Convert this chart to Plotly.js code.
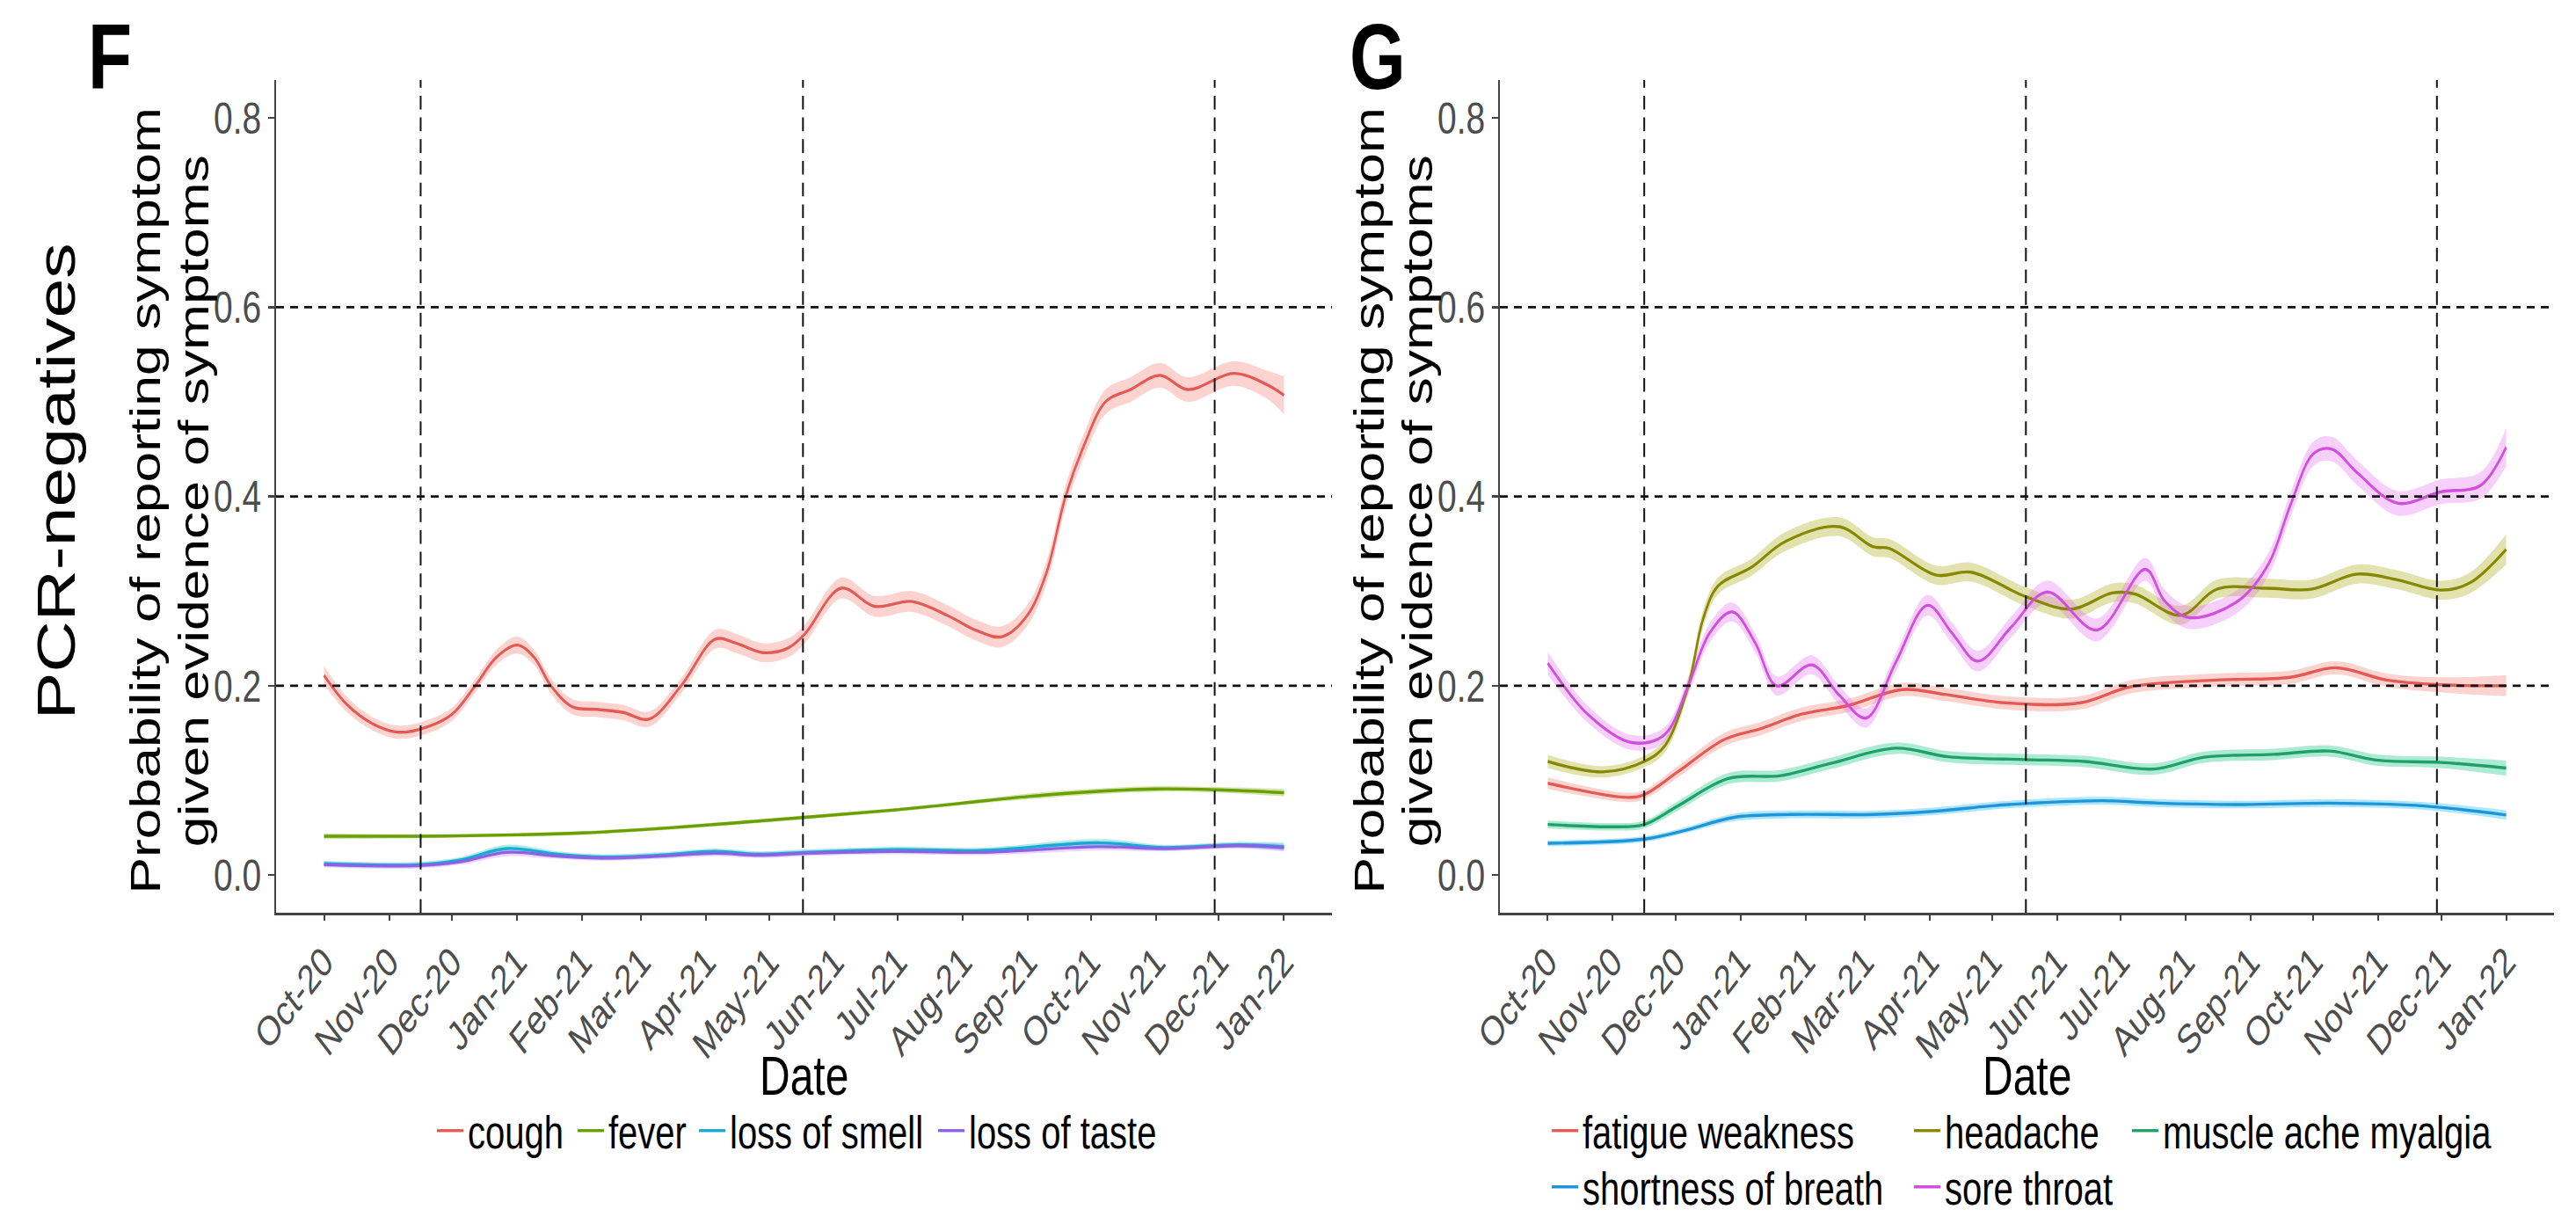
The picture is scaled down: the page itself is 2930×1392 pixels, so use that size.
<!DOCTYPE html>
<html>
<head>
<meta charset="utf-8">
<script src="https://cdn.plot.ly/plotly-3.0.1.min.js"></script>
<style>
html,body{margin:0;padding:0;background:#fff;overflow:hidden;width:2930px;height:1392px;}
#chart{width:2930px;height:1071px;transform:scaleY(1.29972);transform-origin:0 0;}
</style>
</head>
<body>
<div id="chart"></div>
<script>
// ---------- axis ticks ----------
const monthTicks = ['2020-10-01','2020-11-01','2020-12-01','2021-01-01','2021-02-01','2021-03-01','2021-04-01','2021-05-01','2021-06-01','2021-07-01','2021-08-01','2021-09-01','2021-10-01','2021-11-01','2021-12-01','2022-01-01'];
const monthLabels = ['Oct-20','Nov-20','Dec-20','Jan-21','Feb-21','Mar-21','Apr-21','May-21','Jun-21','Jul-21','Aug-21','Sep-21','Oct-21','Nov-21','Dec-21','Jan-22'];
const yTicks = [0, 0.2, 0.4, 0.6, 0.8];
const yTickLabels = ['0.0','0.2','0.4','0.6','0.8'];
const variantDates = ['2020-11-16','2021-05-17','2021-11-29'];
const refLevels = [0.2, 0.4, 0.6];

// ---------- panel F (PCR-negatives) ----------
const coughDates = ['2020-10-01','2020-10-12','2020-10-24','2020-11-05','2020-11-17','2020-12-01','2020-12-12','2020-12-22','2021-01-01','2021-01-09','2021-01-17','2021-01-27','2021-02-08','2021-02-20','2021-03-05','2021-03-20','2021-04-05','2021-04-15','2021-04-28','2021-05-10','2021-05-18','2021-06-04','2021-06-20','2021-07-08','2021-07-25','2021-08-08','2021-08-20','2021-09-01','2021-09-10','2021-09-19','2021-09-28','2021-10-08','2021-10-20','2021-11-03','2021-11-16','2021-12-08','2021-12-24','2022-01-01'];
const coughVals = [0.211,0.180,0.160,0.151,0.155,0.170,0.200,0.230,0.243,0.230,0.200,0.178,0.175,0.172,0.165,0.200,0.249,0.245,0.235,0.240,0.255,0.303,0.284,0.289,0.274,0.258,0.252,0.275,0.320,0.400,0.455,0.500,0.513,0.528,0.513,0.530,0.518,0.507];
const coughCi = [0.010,0.008,0.007,0.007,0.007,0.007,0.007,0.008,0.009,0.008,0.008,0.008,0.008,0.008,0.008,0.008,0.010,0.010,0.010,0.010,0.010,0.011,0.011,0.011,0.011,0.011,0.011,0.011,0.012,0.012,0.013,0.013,0.013,0.013,0.013,0.013,0.015,0.020];

const feverDates = ['2020-10-01','2020-11-15','2021-01-01','2021-02-01','2021-03-15','2021-05-18','2021-07-01','2021-08-01','2021-09-01','2021-10-01','2021-11-01','2021-12-01','2022-01-01'];
const feverVals = [0.041,0.041,0.0425,0.0445,0.050,0.061,0.069,0.076,0.083,0.088,0.091,0.090,0.087];
const feverCi = [0.003,0.002,0.002,0.002,0.002,0.002,0.002,0.002,0.003,0.003,0.003,0.003,0.004];

const smellDates = ['2020-10-01','2020-11-15','2020-12-05','2020-12-27','2021-01-20','2021-02-10','2021-03-10','2021-04-05','2021-04-26','2021-05-18','2021-07-01','2021-08-10','2021-10-05','2021-11-05','2021-12-10','2022-01-01'];
const smellVals = [0.012,0.011,0.016,0.028,0.022,0.019,0.021,0.025,0.022,0.024,0.027,0.026,0.034,0.029,0.032,0.030];
const smellCi = [0.003,0.003,0.003,0.004,0.003,0.003,0.003,0.003,0.003,0.003,0.003,0.003,0.004,0.003,0.003,0.004];
const tasteVals = [0.011,0.010,0.014,0.024,0.020,0.018,0.020,0.023,0.021,0.023,0.025,0.024,0.030,0.028,0.031,0.029];
const tasteCi = [0.003,0.003,0.003,0.004,0.003,0.003,0.003,0.003,0.003,0.003,0.003,0.003,0.004,0.003,0.003,0.004];

// ---------- panel G ----------
const fatigueDates = ['2020-10-01','2020-11-08','2020-11-16','2020-12-02','2020-12-24','2021-01-11','2021-01-30','2021-02-21','2021-03-19','2021-04-08','2021-05-07','2021-06-12','2021-07-06','2021-08-16','2021-09-20','2021-10-12','2021-11-05','2021-12-01','2022-01-01'];
const fatigueVals = [0.097,0.082,0.085,0.109,0.143,0.155,0.170,0.179,0.196,0.191,0.182,0.182,0.199,0.206,0.209,0.219,0.206,0.201,0.200];
const fatigueCi = [0.006,0.005,0.005,0.006,0.007,0.007,0.007,0.007,0.007,0.007,0.007,0.007,0.007,0.007,0.007,0.007,0.007,0.008,0.011];

const headacheDates = ['2020-10-01','2020-10-27','2020-11-16','2020-11-26','2020-12-07','2020-12-14','2020-12-21','2021-01-06','2021-01-22','2021-02-17','2021-03-05','2021-03-13','2021-04-04','2021-04-21','2021-05-17','2021-06-08','2021-06-27','2021-07-08','2021-07-30','2021-08-16','2021-09-09','2021-09-30','2021-10-22','2021-11-10','2021-12-01','2021-12-15','2022-01-01'];
const headacheVals = [0.120,0.109,0.120,0.137,0.200,0.270,0.305,0.325,0.352,0.368,0.347,0.345,0.317,0.320,0.294,0.281,0.298,0.297,0.2745,0.302,0.303,0.302,0.318,0.312,0.301,0.309,0.344];
const headacheCi = [0.007,0.006,0.006,0.007,0.008,0.009,0.009,0.009,0.010,0.010,0.010,0.010,0.010,0.010,0.010,0.010,0.010,0.010,0.010,0.010,0.010,0.010,0.010,0.010,0.010,0.011,0.016];

const muscleDates = ['2020-10-01','2020-10-31','2020-11-16','2020-12-02','2020-12-26','2021-01-20','2021-02-13','2021-03-16','2021-04-10','2021-05-17','2021-06-14','2021-07-17','2021-08-10','2021-09-12','2021-10-09','2021-10-31','2021-12-01','2022-01-01'];
const muscleVals = [0.0535,0.051,0.0535,0.073,0.102,0.105,0.118,0.134,0.125,0.122,0.120,0.112,0.1245,0.1275,0.131,0.1215,0.119,0.113];
const muscleCi = [0.004,0.004,0.004,0.005,0.006,0.006,0.006,0.006,0.006,0.006,0.006,0.006,0.006,0.006,0.006,0.006,0.006,0.008];

const breathDates = ['2020-10-01','2020-11-16','2020-12-05','2020-12-29','2021-01-25','2021-03-05','2021-04-01','2021-04-30','2021-05-20','2021-06-22','2021-07-19','2021-08-29','2021-10-09','2021-11-23','2022-01-01'];
const breathVals = [0.0336,0.038,0.047,0.061,0.064,0.064,0.067,0.073,0.076,0.0785,0.076,0.0745,0.076,0.073,0.0635];
const breathCi = [0.003,0.003,0.003,0.004,0.004,0.004,0.004,0.004,0.004,0.004,0.004,0.004,0.004,0.004,0.005];

const soreDates = ['2020-10-01','2020-10-20','2020-11-10','2020-11-26','2020-12-07','2020-12-17','2020-12-28','2021-01-08','2021-01-18','2021-02-04','2021-02-17','2021-03-02','2021-03-16','2021-03-31','2021-04-12','2021-04-24','2021-05-10','2021-05-27','2021-06-20','2021-07-13','2021-07-22','2021-08-03','2021-08-27','2021-09-10','2021-09-20','2021-10-01','2021-10-10','2021-10-22','2021-11-10','2021-12-01','2021-12-20','2022-01-01'];
const soreVals = [0.224,0.170,0.140,0.149,0.200,0.255,0.278,0.245,0.200,0.222,0.190,0.166,0.225,0.285,0.255,0.226,0.262,0.299,0.259,0.323,0.290,0.272,0.291,0.330,0.390,0.445,0.450,0.425,0.393,0.405,0.412,0.452];
const soreCi = [0.012,0.009,0.008,0.008,0.009,0.010,0.010,0.010,0.010,0.010,0.010,0.010,0.010,0.011,0.011,0.011,0.011,0.012,0.012,0.012,0.012,0.012,0.012,0.012,0.013,0.013,0.013,0.013,0.013,0.013,0.014,0.020];

// ---------- styling ----------
const FONT = 'Liberation Sans, Arial, Helvetica, sans-serif';
const W = 2930, H = 1392;          // final picture size
const HU = 1071;                   // drawn height before the vertical stretch (see CSS)
const panelF = {x0: 314, x1: 1515};
const panelG = {x0: 1706, x1: 2905};
const plotTop = 93, plotBottom = 1061;
const xRange = ['2020-09-08 04:00:00', '2022-01-23 20:00:00'];
const yRange = [-0.04, 0.84];

function rgba(hex, a) {
  const n = parseInt(hex.slice(1), 16);
  return 'rgba(' + ((n >> 16) & 255) + ',' + ((n >> 8) & 255) + ',' + (n & 255) + ',' + a + ')';
}

const series = [
  {name:'cough', dates:coughDates, vals:coughVals, ci:coughCi, fill:'#F8766D', line:'#E35A55', ax:1, legend:'legend'},
  {name:'fever', dates:feverDates, vals:feverVals, ci:feverCi, fill:'#7CAE00', line:'#67A000', ax:1, legend:'legend2'},
  {name:'loss of smell', dates:smellDates, vals:smellVals, ci:smellCi, fill:'#00BFC4', line:'#1AA9D0', ax:1, legend:'legend3'},
  {name:'loss of taste', dates:smellDates, vals:tasteVals, ci:tasteCi, fill:'#C77CFF', line:'#8A62E6', ax:1, legend:'legend4'},
  {name:'fatigue weakness', dates:fatigueDates, vals:fatigueVals, ci:fatigueCi, fill:'#F8766D', line:'#E35A55', ax:2, legend:'legend5'},
  {name:'headache', dates:headacheDates, vals:headacheVals, ci:headacheCi, fill:'#A3A500', line:'#878800', ax:2, legend:'legend6'},
  {name:'muscle ache myalgia', dates:muscleDates, vals:muscleVals, ci:muscleCi, fill:'#00BF7D', line:'#1FA066', ax:2, legend:'legend7'},
  {name:'shortness of breath', dates:breathDates, vals:breathVals, ci:breathCi, fill:'#00B0F6', line:'#1E95D8', ax:2, legend:'legend8'},
  {name:'sore throat', dates:soreDates, vals:soreVals, ci:soreCi, fill:'#E76BF3', line:'#D14FDD', ax:2, legend:'legend9'}
];

const traces = [];
series.forEach(s => {
  const xa = s.ax === 1 ? 'x' : 'x2', ya = s.ax === 1 ? 'y' : 'y2';
  traces.push({x:s.dates, y:s.vals.map((v,i)=>v - s.ci[i]), xaxis:xa, yaxis:ya, type:'scatter', mode:'lines',
    line:{width:0, shape:'spline', color:'rgba(0,0,0,0)'}, showlegend:false, hoverinfo:'skip'});
  traces.push({x:s.dates, y:s.vals.map((v,i)=>v + s.ci[i]), xaxis:xa, yaxis:ya, type:'scatter', mode:'lines',
    line:{width:0, shape:'spline', color:'rgba(0,0,0,0)'}, fill:'tonexty', fillcolor:rgba(s.fill, 0.32),
    showlegend:false, hoverinfo:'skip'});
});
series.forEach(s => {
  const xa = s.ax === 1 ? 'x' : 'x2', ya = s.ax === 1 ? 'y' : 'y2';
  traces.push({x:s.dates, y:s.vals, xaxis:xa, yaxis:ya, type:'scatter', mode:'lines', name:s.name,
    line:{width:2.6, shape:'spline', color:s.line}, legend:s.legend, showlegend:true});
});

function xAxis(p, anchor) {
  return {type:'date', range:xRange, domain:[p.x0/W, p.x1/W], anchor:anchor,
    tickvals:monthTicks, ticktext:monthLabels, tickangle:-45,
    tickfont:{size:36, color:'#4D4D4D', family:FONT},
    showline:true, linecolor:'#444', linewidth:2, ticks:'outside', ticklen:5, tickwidth:2, tickcolor:'#444',
    showgrid:false, zeroline:false, fixedrange:true, automargin:false};
}
function yAxis(anchor) {
  return {range:yRange, domain:[1 - plotBottom/H, 1 - plotTop/H], anchor:anchor,
    tickvals:yTicks, ticktext:yTickLabels,
    tickfont:{size:39, color:'#4D4D4D', family:FONT},
    showline:true, linecolor:'#444', linewidth:2, ticks:'outside', ticklen:7, tickwidth:2, tickcolor:'#444',
    showgrid:false, zeroline:false, fixedrange:true, automargin:false};
}

const shapes = [];
[['x','y'],['x2','y2']].forEach(([xa, ya]) => {
  refLevels.forEach(v => shapes.push({type:'line', xref:xa + ' domain', yref:ya, x0:0, x1:1, y0:v, y1:v,
    line:{color:'#111', width:2.2, dash:'9px,7px'}, layer:'above'}));
  variantDates.forEach(d => shapes.push({type:'line', xref:xa, yref:ya + ' domain', x0:d, x1:d, y0:0, y1:1,
    line:{color:'#111', width:2, dash:'12px,7px'}, layer:'above'}));
});

function ann(text, xpx, ypx, size, opts) {
  return Object.assign({text:text, xref:'paper', yref:'paper', x:xpx/W, y:1 - ypx/H,
    xanchor:'center', yanchor:'middle', showarrow:false,
    font:{size:size, color:'#000', family:FONT}}, opts || {});
}
const annotations = [
  ann('<b>F</b>', 125, 3, 82, {yanchor:'top'}),
  ann('<b>G</b>', 1567, 3, 82, {yanchor:'top'}),
  ann('PCR-negatives', 64, 560, 62, {textangle:-90}),
  ann('Probability of reporting symptom', 165, 582, 48, {textangle:-90}),
  ann('given evidence of symptoms', 220, 582, 48, {textangle:-90}),
  ann('Probability of reporting symptom', 1557, 582, 48, {textangle:-90}),
  ann('given evidence of symptoms', 1612, 582, 48, {textangle:-90}),
  ann('Date', (panelF.x0 + panelF.x1)/2, 1250, 48),
  ann('Date', (panelG.x0 + panelG.x1)/2, 1250, 48)
];

function leg(xpx, ypx) {
  return {orientation:'v', x:xpx/W, xanchor:'left', y:1 - ypx/H, yanchor:'middle',
    traceorder:'normal',
    font:{size:40, color:'#000', family:FONT}, bgcolor:'rgba(0,0,0,0)', borderwidth:0,
    itemwidth:30, tracegroupgap:0, itemclick:false, itemdoubleclick:false};
}

const layout = {
  width:W, height:HU, autosize:false,
  margin:{l:0, r:0, t:0, b:0, pad:0},
  paper_bgcolor:'#fff', plot_bgcolor:'#fff',
  font:{family:FONT, color:'#000'},
  xaxis:xAxis(panelF, 'y'), yaxis:yAxis('x'),
  xaxis2:xAxis(panelG, 'y2'), yaxis2:yAxis('x2'),
  showlegend:true,
  legend:leg(492, 1314),
  legend2:leg(652, 1314),
  legend3:leg(790, 1314),
  legend4:leg(1062, 1314),
  legend5:leg(1760, 1314),
  legend6:leg(2172, 1314),
  legend7:leg(2420, 1314),
  legend8:leg(1760, 1380),
  legend9:leg(2172, 1380),
  shapes:shapes,
  annotations:annotations
};

Plotly.newPlot('chart', traces, layout, {staticPlot:true, displayModeBar:false});
</script>
</body>
</html>
